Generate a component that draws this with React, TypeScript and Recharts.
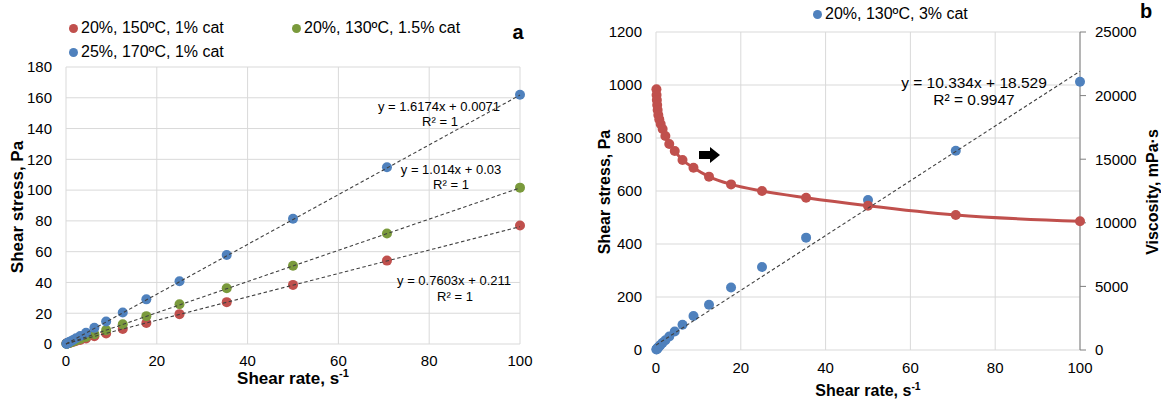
import React from 'react';
import { ComposedChart, Scatter, Line, XAxis, YAxis, CartesianGrid } from 'recharts';

const FONT = '"Liberation Sans", Arial, sans-serif';

const RED = '#C0504D';
const GREEN = '#7A9A3C';
const BLUE = '#4F81BD';
const TREND = '#404040';
const GRID = '#d9d9d9';

// shear-rate sweep, s-1 (same for every run)
const shearRates = [100, 70.7, 50, 35.4, 25, 17.7, 12.5, 8.84, 6.25, 4.42, 3.13, 2.21, 1.56, 1.1, 0.78, 0.55, 0.39, 0.28, 0.2, 0.14, 0.1];

// panel a: shear stress, Pa
const stress150 = [77.0, 54.2, 38.4, 27.2, 19.4, 13.7, 9.8, 6.9, 5.0, 3.6, 2.6, 1.9, 1.4, 1.05, 0.8, 0.63, 0.5, 0.42, 0.36, 0.32, 0.29];
const stress130 = [101.6, 71.8, 50.8, 36.2, 25.8, 18.1, 12.8, 9.0, 6.4, 4.5, 3.2, 2.3, 1.6, 1.15, 0.82, 0.59, 0.43, 0.31, 0.23, 0.17, 0.13];
const stress170 = [162.0, 114.8, 81.4, 57.8, 40.8, 29.0, 20.5, 14.6, 10.5, 7.3, 5.2, 3.7, 2.6, 1.85, 1.3, 0.92, 0.66, 0.47, 0.34, 0.24, 0.17];

// panel a linear fits (red, green, blue)
const fitSlopesA = [0.7603, 1.014, 1.6174];
const fitInterceptsA = [0.211, 0.03, 0.0071];

// panel b: 20%, 130ºC, 3% cat
const stressB = [1012, 752, 566, 424, 313, 236, 171, 128, 95, 70, 51, 37, 27.5, 19.8, 14.3, 10.3, 7.5, 5.5, 4.0, 2.9, 2.1];
const viscosityB = [10120, 10610, 11340, 11970, 12500, 13020, 13630, 14330, 14940, 15640, 16200, 16820, 17370, 17770, 18130, 18470, 18870, 19260, 19650, 20050, 20490];
const fitSlopeB = 10.334;
const fitInterceptB = 18.529;

// ticks
const xTicks = [0, 20, 40, 60, 80, 100];
const yTicksA = [0, 20, 40, 60, 80, 100, 120, 140, 160, 180];
const yTicksB = [0, 200, 400, 600, 800, 1000, 1200];
const viscTicks = [0, 5000, 10000, 15000, 20000, 25000];

const toPoints = (ys: number[]) => shearRates.map((x, i) => ({ x, y: ys[i] }));
const trend = (m: number, b: number) => [{ x: 0, y: b }, { x: 100, y: m * 100 + b }];

const dot = (color: string, r: number) => (props: any) =>
  props.cx == null ? <g /> : <circle cx={props.cx} cy={props.cy} r={r} fill={color} />;
const noDot = () => <g />;

const trendLine = { stroke: TREND, strokeWidth: 1.1, strokeDasharray: '3.5 2.5' };

const txt = (x: number, y: number, content: React.ReactNode, style: React.CSSProperties = {}) => (
  <div
    style={{
      position: 'absolute',
      left: x,
      top: y,
      transform: 'translate(-50%, -50%)',
      whiteSpace: 'nowrap',
      lineHeight: 1,
      fontFamily: FONT,
      color: '#000',
      ...style,
    }}
  >
    {content}
  </div>
);

const legendItem = (x: number, y: number, color: string, label: string) => (
  <div style={{ position: 'absolute', left: x - 4, top: y - 9, display: 'flex', alignItems: 'center', fontFamily: FONT, fontSize: 16, whiteSpace: 'nowrap' }}>
    <span style={{ width: 9, height: 9, borderRadius: '50%', background: color, marginRight: 3, display: 'inline-block' }} />
    {label}
  </div>
);

const rateTitle = (
  <span>
    Shear rate, s<sup style={{ fontSize: '0.65em', verticalAlign: '0.55em', lineHeight: 0 }}>-1</sup>
  </span>
);

export default function App() {
  const seriesA = [
    { data: toPoints(stress150), color: RED },
    { data: toPoints(stress130), color: GREEN },
    { data: toPoints(stress170), color: BLUE },
  ];
  const viscData = shearRates.map((x, i) => ({ x, v: viscosityB[i] })).sort((p, q) => p.x - q.x);
  const tick = { fontSize: 15, fill: '#000', fontFamily: FONT };

  return (
    <div style={{ position: 'absolute', left: 0, top: 0, width: 1161, height: 399, background: '#fff' }}>
      {/* panel a */}
      <div style={{ position: 'absolute', left: 0, top: 0 }}>
        <ComposedChart width={580} height={399} margin={{ top: 67, right: 60, bottom: 25, left: 10 }}>
          <CartesianGrid stroke={GRID} strokeWidth={1} />
          <XAxis
            type="number"
            dataKey="x"
            domain={[0, 100]}
            ticks={xTicks}
            axisLine={false}
            tickLine={false}
            tickSize={0}
            tickMargin={11}
            height={30}
            tick={tick}
            interval={0}
          />
          <YAxis
            type="number"
            dataKey="y"
            domain={[0, 180]}
            ticks={yTicksA}
            axisLine={false}
            tickLine={false}
            tickSize={0}
            tickMargin={14}
            width={56}
            tick={tick}
            interval={0}
          />
          {seriesA.map((s, i) => (
            <Scatter key={`s${i}`} data={s.data} shape={dot(s.color, 5)} isAnimationActive={false} />
          ))}
          {fitSlopesA.map((m, i) => (
            <Scatter
              key={`t${i}`}
              data={trend(m, fitInterceptsA[i])}
              shape={noDot}
              line={trendLine}
              lineType="joint"
              isAnimationActive={false}
            />
          ))}
        </ComposedChart>
      </div>

      {/* panel b */}
      <div style={{ position: 'absolute', left: 580, top: 0 }}>
        <ComposedChart width={581} height={399} margin={{ top: 32, right: 11, bottom: 19, left: 10 }}>
          <CartesianGrid stroke={GRID} strokeWidth={1} yAxisId="left" />
          <XAxis
            type="number"
            dataKey="x"
            domain={[0, 100]}
            ticks={xTicks}
            axisLine={false}
            tickLine={false}
            tickSize={0}
            tickMargin={12}
            height={30}
            tick={tick}
            interval={0}
          />
          <YAxis
            yAxisId="left"
            type="number"
            dataKey="y"
            domain={[0, 1200]}
            ticks={yTicksB}
            axisLine={false}
            tickLine={false}
            tickSize={0}
            tickMargin={14}
            width={66}
            tick={tick}
            interval={0}
          />
          <YAxis
            yAxisId="right"
            orientation="right"
            type="number"
            domain={[0, 25000]}
            ticks={viscTicks}
            axisLine={{ stroke: '#7f7f7f' }}
            tickLine={{ stroke: '#7f7f7f' }}
            tickSize={6}
            tickMargin={9}
            width={70}
            tick={tick}
            interval={0}
          />
          <Scatter yAxisId="left" data={toPoints(stressB)} shape={dot(BLUE, 5)} isAnimationActive={false} />
          <Line
            yAxisId="right"
            data={viscData}
            dataKey="v"
            type="monotone"
            stroke={RED}
            strokeWidth={3}
            dot={{ r: 5, fill: RED, stroke: RED, strokeWidth: 0 }}
            isAnimationActive={false}
          />
          <Scatter
            yAxisId="left"
            data={trend(fitSlopeB, fitInterceptB)}
            shape={noDot}
            line={trendLine}
            lineType="joint"
            isAnimationActive={false}
          />
        </ComposedChart>
      </div>

      {/* legends */}
      {legendItem(73, 28, RED, '20%, 150ºC, 1% cat')}
      {legendItem(296, 28, GREEN, '20%, 130ºC, 1.5% cat')}
      {legendItem(73, 52, BLUE, '25%, 170ºC, 1% cat')}
      {legendItem(817, 14, BLUE, '20%, 130ºC, 3% cat')}
      {txt(518, 32, 'a', { fontSize: 20, fontWeight: 700 })}
      {txt(1146, 11, 'b', { fontSize: 20, fontWeight: 700 })}

      {/* axis titles */}
      {txt(17, 207, 'Shear stress, Pa', { fontSize: 17, fontWeight: 700, transform: 'translate(-50%, -50%) rotate(-90deg)' })}
      {txt(293, 378, rateTitle, { fontSize: 17, fontWeight: 700 })}
      {txt(605, 192, 'Shear stress, Pa', { fontSize: 16, fontWeight: 700, transform: 'translate(-50%, -50%) rotate(-90deg)' })}
      {txt(1153, 192, 'Viscosity, mPa·s', { fontSize: 16, fontWeight: 700, transform: 'translate(-50%, -50%) rotate(-90deg)' })}
      {txt(868, 391, rateTitle, { fontSize: 16, fontWeight: 700 })}

      {/* trendline equations */}
      {txt(439, 106, 'y = 1.6174x + 0.0071', { fontSize: 13 })}
      {txt(440, 121, 'R² = 1', { fontSize: 13 })}
      {txt(451, 169, 'y = 1.014x + 0.03', { fontSize: 13 })}
      {txt(451, 184, 'R² = 1', { fontSize: 13 })}
      {txt(454, 280, 'y = 0.7603x + 0.211', { fontSize: 13 })}
      {txt(455, 296, 'R² = 1', { fontSize: 13 })}
      {txt(974, 83, 'y = 10.334x + 18.529', { fontSize: 15.5 })}
      {txt(974, 100, 'R² = 0.9947', { fontSize: 15.5 })}

      {/* arrow pointing to the viscosity axis */}
      <svg style={{ position: 'absolute', left: 698, top: 146 }} width={24} height={18}>
        <polygon points="1,5 12,5 12,1 22,9 12,17 12,13 1,13" fill="#000" />
      </svg>
    </div>
  );
}
